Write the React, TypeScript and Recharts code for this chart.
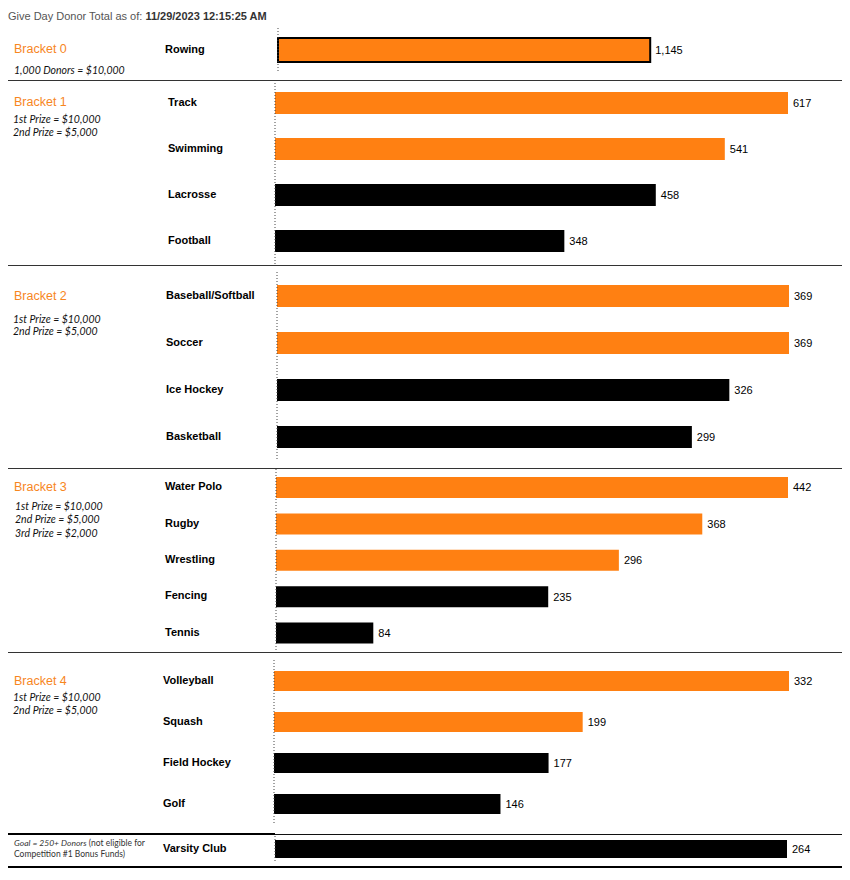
import { BarChart, Bar, XAxis, YAxis, Cell, LabelList } from 'recharts';

// donor counts per bracket
const bracket0Teams = ['Rowing'];
const bracket0Donors = [1145];
const bracket1Teams = ['Track', 'Swimming', 'Lacrosse', 'Football'];
const bracket1Donors = [617, 541, 458, 348];
const bracket2Teams = ['Baseball/Softball', 'Soccer', 'Ice Hockey', 'Basketball'];
const bracket2Donors = [369, 369, 326, 299];
const bracket3Teams = ['Water Polo', 'Rugby', 'Wrestling', 'Fencing', 'Tennis'];
const bracket3Donors = [442, 368, 296, 235, 84];
const bracket4Teams = ['Volleyball', 'Squash', 'Field Hockey', 'Golf'];
const bracket4Donors = [332, 199, 177, 146];
const varsityTeams = ['Varsity Club'];
const varsityDonors = [264];

const bracketTitles = ['Bracket 0', 'Bracket 1', 'Bracket 2', 'Bracket 3', 'Bracket 4'];
const bracketNotes = [
  ['1,000 Donors = $10,000'],
  ['1st Prize = $10,000', '2nd Prize = $5,000'],
  ['1st Prize = $10,000', '2nd Prize = $5,000'],
  ['1st Prize = $10,000', '2nd Prize = $5,000', '3rd Prize = $2,000'],
  ['1st Prize = $10,000', '2nd Prize = $5,000'],
];
// how many teams in each group are in a prize position (orange)
const prizeSpots = [1, 2, 2, 3, 2, 0];

const ORANGE = '#FF8012';
const TITLE_ORANGE = '#F7861E';

const groups = [
  { teams: bracket0Teams, donors: bracket0Donors },
  { teams: bracket1Teams, donors: bracket1Donors },
  { teams: bracket2Teams, donors: bracket2Donors },
  { teams: bracket3Teams, donors: bracket3Donors },
  { teams: bracket4Teams, donors: bracket4Donors },
  { teams: varsityTeams, donors: varsityDonors },
];

// page layout for each block
const blocks = [
  { top: 28, height: 44, barSize: 24, axisX: 278, labelX: 165, plotW: 512, max: 1575, outline: true },
  { top: 80, height: 184, barSize: 22, axisX: 275, labelX: 168, plotW: 513 },
  { top: 272, height: 188, barSize: 22, axisX: 277, labelX: 166, plotW: 512 },
  { top: 469, height: 182, barSize: 21, axisX: 276, labelX: 165, plotW: 512 },
  { top: 660, height: 164, barSize: 20, axisX: 274, labelX: 163, plotW: 515 },
  { top: 836, height: 26, barSize: 18, axisX: 275, labelX: 163, plotW: 512 },
];
const titleY = [49, 102, 296, 487, 681];
const noteY = [[70], [119, 132], [319, 331], [506, 519, 533], [697, 710]];

const font = 'Arial, "Liberation Sans", sans-serif';

function BracketChart({ idx }: { idx: number }) {
  const g = groups[idx];
  const b = blocks[idx];
  const data = g.teams.map((name, i) => ({ name, donors: g.donors[i] }));
  const right = 850 - b.axisX - b.plotW;
  return (
    <div style={{ position: 'absolute', left: 0, top: b.top }}>
      <BarChart
        width={850}
        height={b.height}
        data={data}
        layout="vertical"
        margin={{ top: 0, right, bottom: 0, left: 0 }}
      >
        <XAxis type="number" hide domain={[0, b.max ?? 'dataMax']} />
        <YAxis
          type="category"
          dataKey="name"
          width={b.axisX}
          tickLine={false}
          axisLine={{ stroke: '#444', strokeDasharray: '1 2' }}
          tick={(p: any) => (
            <text
              x={b.labelX}
              y={p.y}
              dy={3}
              textAnchor="start"
              fontFamily={font}
              fontSize={11}
              fontWeight="bold"
              fill="#000"
            >
              {p.payload.value}
            </text>
          )}
        />
        <Bar
          dataKey="donors"
          barSize={b.barSize}
          isAnimationActive={false}
          stroke={b.outline ? '#000' : undefined}
          strokeWidth={b.outline ? 2 : 0}
        >
          {data.map((d, i) => (
            <Cell key={d.name} fill={i < prizeSpots[idx] ? ORANGE : '#000'} />
          ))}
          <LabelList
            dataKey="donors"
            position="right"
            offset={5}
            fill="#000"
            fontSize={11}
            fontFamily={font}
            formatter={(v: any) => Number(v).toLocaleString('en-US')}
          />
        </Bar>
      </BarChart>
    </div>
  );
}

function HLine({ y, x1 = 8, x2 = 842, w = 1, color = '#333' }: { y: number; x1?: number; x2?: number; w?: number; color?: string }) {
  return <div style={{ position: 'absolute', left: x1, top: y, width: x2 - x1, height: w, background: color }} />;
}

export default function App() {
  return (
    <div style={{ position: 'absolute', left: 0, top: 0, width: 850, height: 880, background: '#fff', fontFamily: font, overflow: 'hidden' }}>
      <div style={{ position: 'absolute', left: 8, top: 9, fontSize: 11, color: '#555', whiteSpace: 'nowrap', lineHeight: '14px' }}>
        Give Day Donor Total as of: <b style={{ color: '#333' }}>11/29/2023 12:15:25 AM</b>
      </div>

      {groups.map((_, i) => (
        <BracketChart key={i} idx={i} />
      ))}

      {bracketTitles.map((t, i) => (
        <div key={t} style={{ position: 'absolute', left: 14, top: titleY[i] - 8, fontSize: 12.5, lineHeight: '16px', color: TITLE_ORANGE, whiteSpace: 'nowrap' }}>
          {t}
        </div>
      ))}
      {bracketNotes.map((notes, i) =>
        notes.map((n, j) => (
          <div
            key={`${i}-${j}`}
            style={{
              position: 'absolute',
              left: i === 0 ? 14 : i === 3 ? 15 : 13,
              top: noteY[i][j] - 7,
              fontSize: 10.5,
              lineHeight: '14px',
              fontStyle: 'italic',
              fontFamily: 'Lato, "Open Sans", sans-serif',
              color: '#111',
              whiteSpace: 'nowrap',
            }}
          >
            {n}
          </div>
        ))
      )}

      <div style={{ position: 'absolute', left: 14, top: 838, fontSize: 8.5, lineHeight: '11px', fontFamily: 'Lato, "Open Sans", sans-serif', color: '#333', whiteSpace: 'nowrap' }}>
        <div><i>Goal = 250+ Donors</i> (not eligible for</div>
        <div>Competition #1 Bonus Funds)</div>
      </div>

      <HLine y={80} />
      <HLine y={265} />
      <HLine y={468} />
      <HLine y={652} />
      <HLine y={833} x1={8} x2={275} w={2} color="#000" />
      <HLine y={834} x1={275} x2={842} w={1} color="#111" />
      <HLine y={866} x1={8} x2={842} w={2} color="#000" />
    </div>
  );
}
